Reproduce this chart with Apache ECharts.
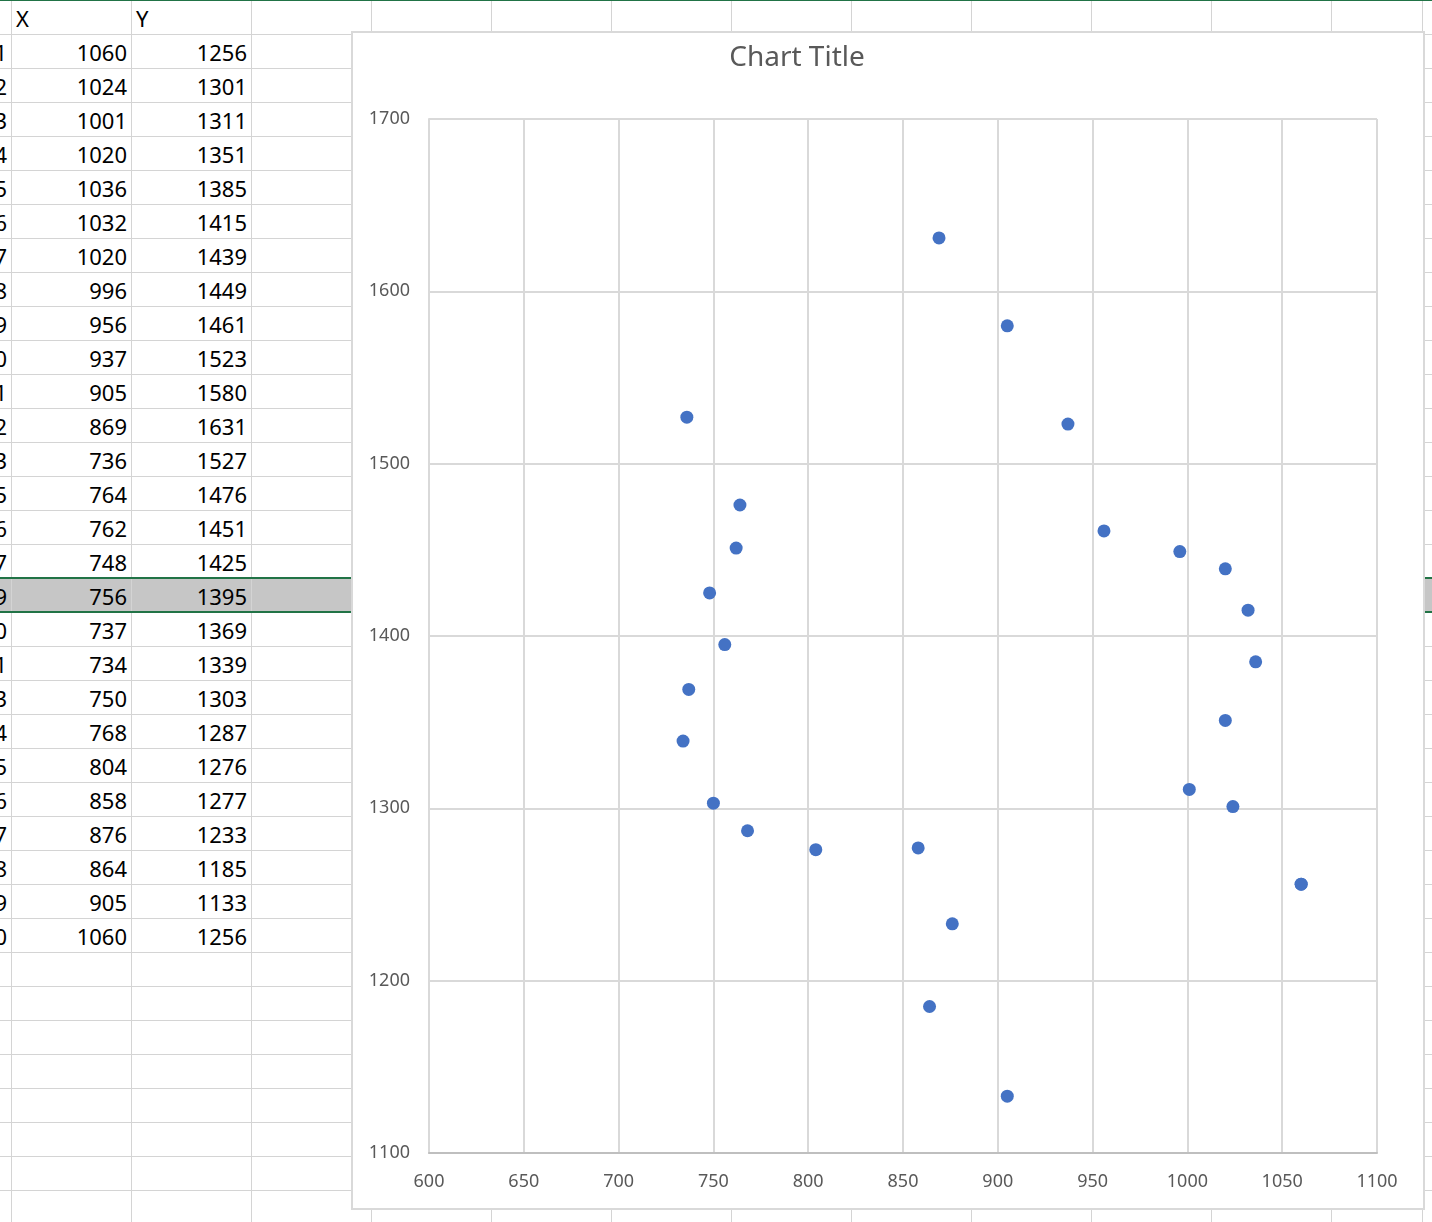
<!DOCTYPE html>
<html>
<head>
<meta charset="utf-8">
<script src="https://cdn.jsdelivr.net/npm/echarts/dist/echarts.min.js"></script>
<style>
  html, body { margin: 0; padding: 0; background: #fff; }
  body { width: 1432px; height: 1222px; position: relative; overflow: hidden; font-family: "Noto Sans", sans-serif; }
  #sheet { position: absolute; left: 0; top: 0; width: 1432px; height: 1222px; overflow: hidden; }
  .vl { position: absolute; top: 0; width: 1px; height: 1222px; background: #d4d4d4; }
  .hl { position: absolute; left: 0; height: 1px; width: 1432px; background: #d4d4d4; }
  .cell { position: absolute; height: 34px; line-height: 34px; font-size: 22px; color: #000; white-space: nowrap; }
  .num { text-align: right; }
  #chartBox { position: absolute; left: 351px; top: 31px; width: 1070px; height: 1175px; border: 2px solid #d9d9d9; background: #fff; }
  #chart { width: 1070px; height: 1175px; }
</style>
</head>
<body>
<div id="sheet"></div>
<div id="chartBox"><div id="chart"></div></div>
<script>
// ---- data ----
const rowIds  = [1,2,3,4,5,6,7,8,9,10,11,12,13,15,16,17,19,20,21,23,24,25,26,27,28,29,30];
const xValues = [1060,1024,1001,1020,1036,1032,1020,996,956,937,905,869,736,764,762,748,756,737,734,750,768,804,858,876,864,905,1060];
const yValues = [1256,1301,1311,1351,1385,1415,1439,1449,1461,1523,1580,1631,1527,1476,1451,1425,1395,1369,1339,1303,1287,1276,1277,1233,1185,1133,1256];
const headers = ["X", "Y"];
const chartTitle = "Chart Title";
const xAxisMin = 600, xAxisMax = 1100, xAxisStep = 50;
const yAxisMin = 1100, yAxisMax = 1700, yAxisStep = 100;
const selectedRow = 16;

// ---- spreadsheet background ----
const sheet = document.getElementById('sheet');
function add(cls, style, text) {
  const d = document.createElement('div');
  d.className = cls;
  Object.assign(d.style, style);
  if (text !== undefined) d.textContent = text;
  sheet.appendChild(d);
  return d;
}
const rowH = 34, firstRowTop = 34;
// selected row highlight
add('', {position:'absolute', left:'0px', top:(firstRowTop + rowH*selectedRow)+'px', width:'1432px', height:rowH+'px', background:'#c6c6c6'});
// horizontal lines
for (let y = firstRowTop; y < 1222; y += rowH) add('hl', {top: y+'px'});
// vertical lines
const colLines = [];
for (let x = 11; x <= 1331; x += 120) colLines.push(x);
colLines.push(1422);
colLines.forEach(x => add('vl', {left: x+'px'}));
// selected row green borders
add('', {position:'absolute', left:'0px', top:(firstRowTop + rowH*selectedRow - 1)+'px', width:'1432px', height:'2px', background:'#217346'});
add('', {position:'absolute', left:'0px', top:(firstRowTop + rowH*(selectedRow+1) - 1)+'px', width:'1432px', height:'2px', background:'#217346'});
// top green line
add('', {position:'absolute', left:'0px', top:'0px', width:'1432px', height:'1px', background:'#217346'});
// headers
add('cell', {left:'16px', top:'1px', width:'100px'}, headers[0]);
add('cell', {left:'136px', top:'1px', width:'100px'}, headers[1]);
// data rows
rowIds.forEach((id, i) => {
  const top = (firstRowTop + rowH*i + 1) + 'px';
  add('cell num', {left:'-60px', top, width:'67px'}, String(id));
  add('cell num', {left:'11px', top, width:'116px'}, String(xValues[i]));
  add('cell num', {left:'131px', top, width:'116px'}, String(yValues[i]));
});

// ---- chart ----
const chart = echarts.init(document.getElementById('chart'), null, {renderer: 'canvas'});
const pts = xValues.map((x, i) => [x, yValues[i]]);
const labelStyle = { color: '#595959', fontSize: 18, fontFamily: 'Noto Sans', formatter: v => String(v) };
chart.setOption({
  animation: false,
  backgroundColor: '#fff',
  title: {
    text: chartTitle,
    left: 444, top: 11, textAlign: 'center', padding: 0,
    textStyle: { color: '#595959', fontSize: 28, fontWeight: 'normal', fontFamily: 'Noto Sans' }
  },
  grid: { left: 76, right: 46, top: 86, bottom: 55, containLabel: false },
  xAxis: {
    type: 'value', min: xAxisMin, max: xAxisMax, interval: xAxisStep,
    axisLine: { show: true, lineStyle: { color: '#bfbfbf', width: 2 } },
    axisTick: { show: false },
    axisLabel: Object.assign({ margin: 20 }, labelStyle),
    splitLine: { show: true, lineStyle: { color: '#d9d9d9', width: 2 } }
  },
  yAxis: {
    type: 'value', min: yAxisMin, max: yAxisMax, interval: yAxisStep,
    axisLine: { show: true, lineStyle: { color: '#d9d9d9', width: 2 } },
    axisTick: { show: false },
    axisLabel: Object.assign({ margin: 19, padding: [4, 0, 0, 0] }, labelStyle),
    splitLine: { show: true, lineStyle: { color: '#d9d9d9', width: 2 } }
  },
  series: [{
    type: 'scatter',
    data: pts,
    symbol: 'circle',
    symbolSize: 13,
    itemStyle: { color: '#4472c4', opacity: 1 }
  }]
});
</script>
</body>
</html>
